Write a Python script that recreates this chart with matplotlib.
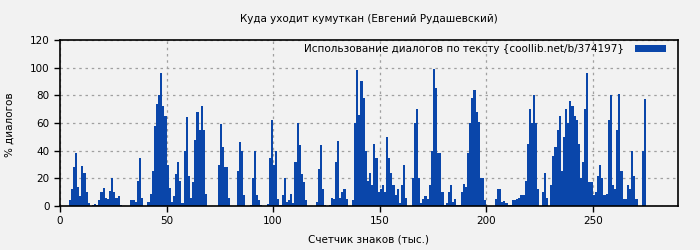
import matplotlib
matplotlib.use("Agg")
import matplotlib.pyplot as plt
import numpy as np

title = "Куда уходит кумуткан (Евгений Рудашевский)"
legend_label = "Использование диалогов по тексту {coollib.net/b/374197}"
x_label = "Счетчик знаков (тыс.)"
y_label = "% диалогов"

# share of dialogue per 1000 characters (x = 0 .. 275)
share = [
    0, 0, 0, 0, 4, 12, 28, 38, 14, 7,
    29, 24, 10, 2, 0, 1, 1.5, 0.5, 4, 10,
    13, 6, 5, 11, 20, 10, 6, 7, 1, 0,
    0, 0, 0, 4, 4, 3, 18, 35, 6, 0,
    0, 3, 9, 25, 58, 74, 80, 96, 72, 65,
    30, 13, 3, 7, 23, 32, 18, 2, 40, 64,
    22, 6, 17, 48, 68, 55, 72, 55, 9, 0,
    0, 0, 0, 0, 30, 59, 43, 28, 28, 6,
    0, 0, 0, 25, 46, 40, 8, 0, 0, 1,
    20, 40, 8, 4, 0.5, 0, 0, 1.5, 35, 62,
    30, 40, 5, 1, 8, 20, 3, 4, 9, 2,
    32, 60, 44, 23, 17, 4, 0, 0, 0, 0,
    3, 27, 44, 12, 0.5, 0, 1, 6, 5, 32,
    47, 6, 10, 12, 5, 0, 0, 4, 60, 98,
    66, 90, 78, 40, 18, 24, 15, 45, 35, 10,
    12, 15, 10, 50, 35, 24, 15, 8, 12, 2,
    15, 30, 6, 0, 0, 20, 60, 70, 20, 2,
    5, 7, 5, 15, 40, 99, 85, 38, 38, 10,
    1, 2, 10, 15, 3, 5, 0.5, 1, 10, 16,
    14, 38, 60, 78, 84, 68, 61, 20, 20, 4,
    0, 0, 0, 0, 5, 12, 12, 3, 3.5, 2,
    0.5, 1, 4, 4.5, 5, 6, 8, 8, 18, 45,
    70, 60, 80, 60, 12, 0, 10, 24, 6, 0,
    15, 36, 43, 55, 65, 25, 50, 70, 60, 76,
    72, 65, 62, 45, 20, 32, 70, 96, 17, 17,
    8, 10, 22, 30, 20, 8, 9, 62, 80, 15,
    12, 55, 81, 25, 5, 5, 15, 12, 40, 22,
    5, 0, 0, 40, 77, 0,
]
x_ticks = [0, 50, 100, 150, 200, 250]
y_ticks = [0, 20, 40, 60, 80, 100, 120]

bg = "#f2f2f2"
bar_color = "#0a46aa"

fig = plt.figure(figsize=(7, 2.5), dpi=100, facecolor=bg)
ax = fig.add_axes([60 / 700, 44 / 250, 618 / 700, 166 / 250], facecolor=bg)

x = np.arange(len(share))
ax.bar(x, share, width=1.0, align="edge", color=bar_color,
       linewidth=0, label=legend_label, zorder=2)

ax.set_xlim(0, 290)
ax.set_ylim(0, 120)
ax.set_xticks(x_ticks)
ax.set_yticks(y_ticks)
ax.tick_params(direction="out", length=4, width=1, labelsize=7.5, colors="black")
ax.grid(True, color="#a0a0a0", linestyle=(0, (2, 3)), linewidth=0.9, zorder=0)
for s in ax.spines.values():
    s.set_linewidth(1.2)

ax.legend(loc="upper right", bbox_to_anchor=(1 - 8 / 618, 1), frameon=False,
          markerfirst=False, fontsize=7.5, handlelength=3.0, handleheight=0.6,
          borderaxespad=0.2, borderpad=0.2, handletextpad=1.0)

fig.text(0.527, 0.924, title, ha="center", va="center", fontsize=7.5)
fig.text(0.527, 0.04, x_label, ha="center", va="center", fontsize=7.5)
fig.text(0.014, 0.5, y_label, ha="center", va="center", rotation=90, fontsize=7.5)

plt.savefig("out.png", dpi=100, facecolor=bg)
